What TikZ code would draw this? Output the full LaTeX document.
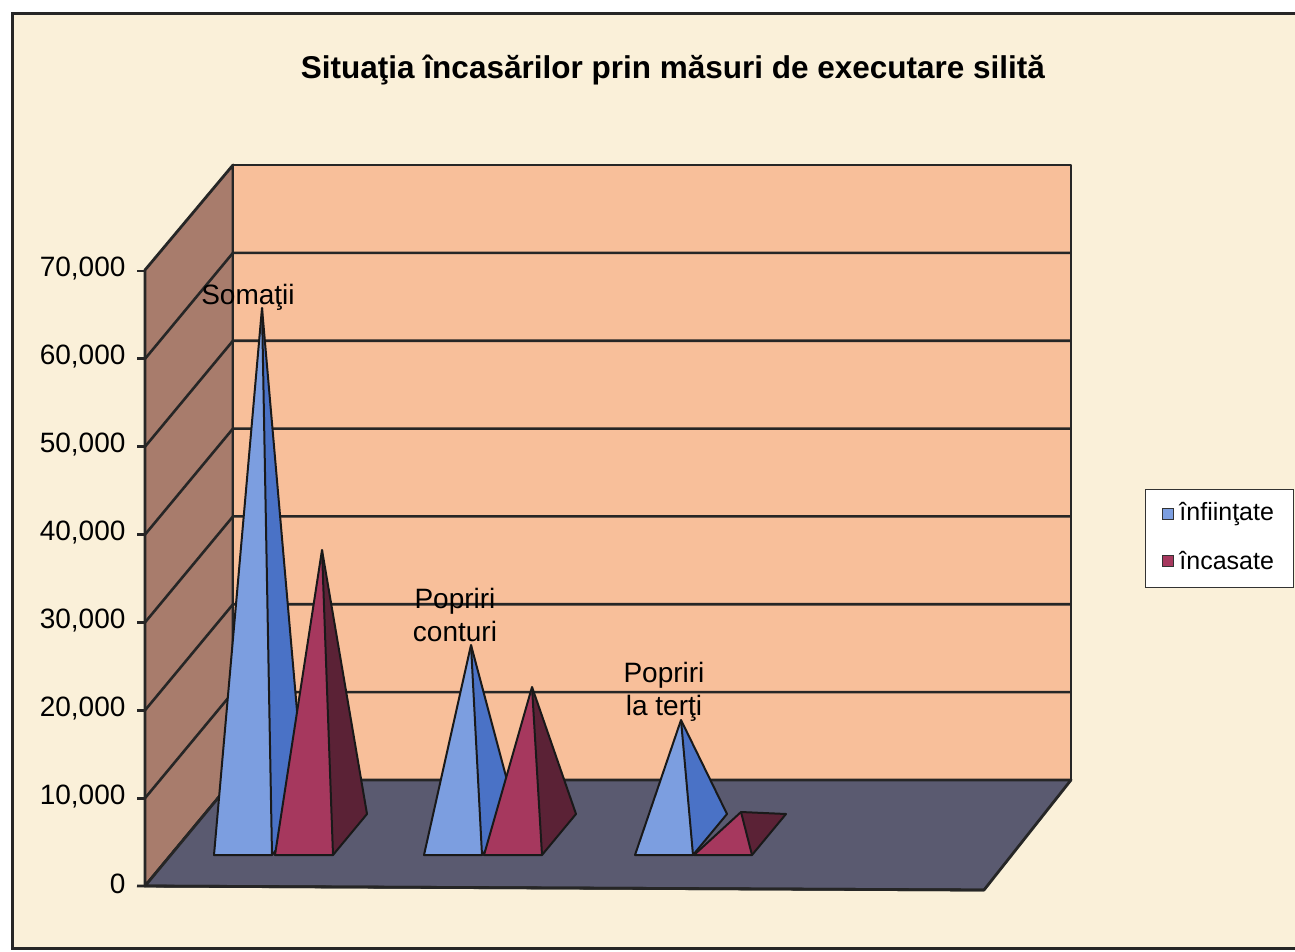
\documentclass[tikz,border=0pt]{standalone}
\usepackage{fontspec}
\setmainfont{Liberation Sans}
\usepackage{tikz}
\usetikzlibrary{positioning,calc}
\definecolor{paper}{HTML}{FAF0D9}
\definecolor{wallback}{HTML}{F8BF9A}
\definecolor{wallside}{HTML}{A87C6C}
\definecolor{floorcol}{HTML}{5A5A70}
\definecolor{blueF}{HTML}{7C9EE0}
\definecolor{blueS}{HTML}{4A72C6}
\definecolor{redF}{HTML}{A6385E}
\definecolor{redS}{HTML}{5B2236}
\tikzset{
  frame/.style  = {draw=black!85, line width=3pt},
  wall/.style   = {draw=black!85, line width=2.8pt, line join=round},
  grid/.style   = {draw=black!85, line width=2.6pt},
  face/.style   = {draw=black!90, line width=2pt, line join=round},
  ticklab/.style = {anchor=east, font=\fontsize{28}{33}\selectfont},
  datalab/.style = {align=center, font=\fontsize{28}{33}\selectfont},
  legkey/.style = {draw=black!80, line width=0.8pt, minimum size=11pt, inner sep=0pt},
  legtxt/.style = {anchor=west, font=\fontsize{25}{30}\selectfont}
}
% pyramid: base front-left x, apex x, apex y, front colour, side colour
\newcommand{\pyramid}[5]{
  \fill[#4] (#1,855) -- ($(#1,855)+(58,0)$) -- (#2,#3) -- cycle;
  \fill[#5] ($(#1,855)+(58,0)$) -- ($(#1,855)+(92,-41)$) -- (#2,#3) -- cycle;
  \draw[face] (#1,855) -- ($(#1,855)+(58,0)$) -- ($(#1,855)+(92,-41)$) -- (#2,#3) -- cycle;
  \draw[face] ($(#1,855)+(58,0)$) -- (#2,#3);
}

\begin{document}
\begin{tikzpicture}[x=1pt,y=-1pt]
      \useasboundingbox (0,0) rectangle (1295,952);
      \fill[white] (0,0) rectangle (1295,952);
      \fill[paper] (12,14) rectangle (1295,948);
      \draw[frame] (1300,14) -- (12,14) -- (12,948) -- (1300,948);

      % title
      \node[font=\bfseries\fontsize{31.5}{36}\selectfont] (title) at (673,70)
           {Situaţia încasărilor prin măsuri de executare silită};

      % walls and floor
      \filldraw[wall, fill=wallside] (145,270) -- (233,165) -- (233,780) -- (145,886) -- cycle;
      \filldraw[wall, fill=wallback] (233,165) rectangle (1071,780);
      \filldraw[wall, fill=floorcol] (145,886) -- (984,890) -- (1071,780) -- (233,780) -- cycle;
      \foreach \k in {1,...,6}
        \draw[grid] (145,{886-\k*87.86}) -- (233,{780-\k*87.86}) -- (1071,{780-\k*87.86});

      % value axis
      \draw[wall] (145,270) -- (145,886);
      \draw[wall] (137,886) -- (984,890);
      \foreach \v/\t in {0/0,1/10{,}000,2/20{,}000,3/30{,}000,4/40{,}000,5/50{,}000,6/60{,}000,7/70{,}000}{
        \draw[wall] (137,{886-\v*87.86}) -- (145,{886-\v*87.86});
        \node[ticklab] (tick\v) at (129,{884-\v*87.86}) {\t};
      }

      % pyramids
      \pyramid{214}{262}{308}{blueF}{blueS}
      \pyramid{275}{322}{550}{redF}{redS}
      \pyramid{424}{471}{645}{blueF}{blueS}
      \pyramid{484}{532}{687}{redF}{redS}
      \pyramid{635}{681}{720}{blueF}{blueS}
      \pyramid{694}{741}{812}{redF}{redS}

      % data labels
      \node[datalab] (somatii) at (248,297) {Somaţii};
      \node[datalab] (conturi) at (455,615) {Popriri\\conturi};
      \node[datalab] (terti)   at (664,692) {Popriri\\la terţi};

      % legend
      \node[draw=black!80, line width=1pt, fill=white, minimum width=148pt,
            minimum height=98pt, inner sep=0pt] (legend) at (1219,538) {};
      \node[legkey, fill=blueF] (keyA) at (1168,514) {};
      \node[legkey, fill=redF]  (keyB) at (1168,561) {};
      \node[legtxt, right=2pt of keyA] (txtA) {înfiinţate};
      \node[legtxt, right=2pt of keyB] (txtB) {încasate};
    \end{tikzpicture}
\end{document}
